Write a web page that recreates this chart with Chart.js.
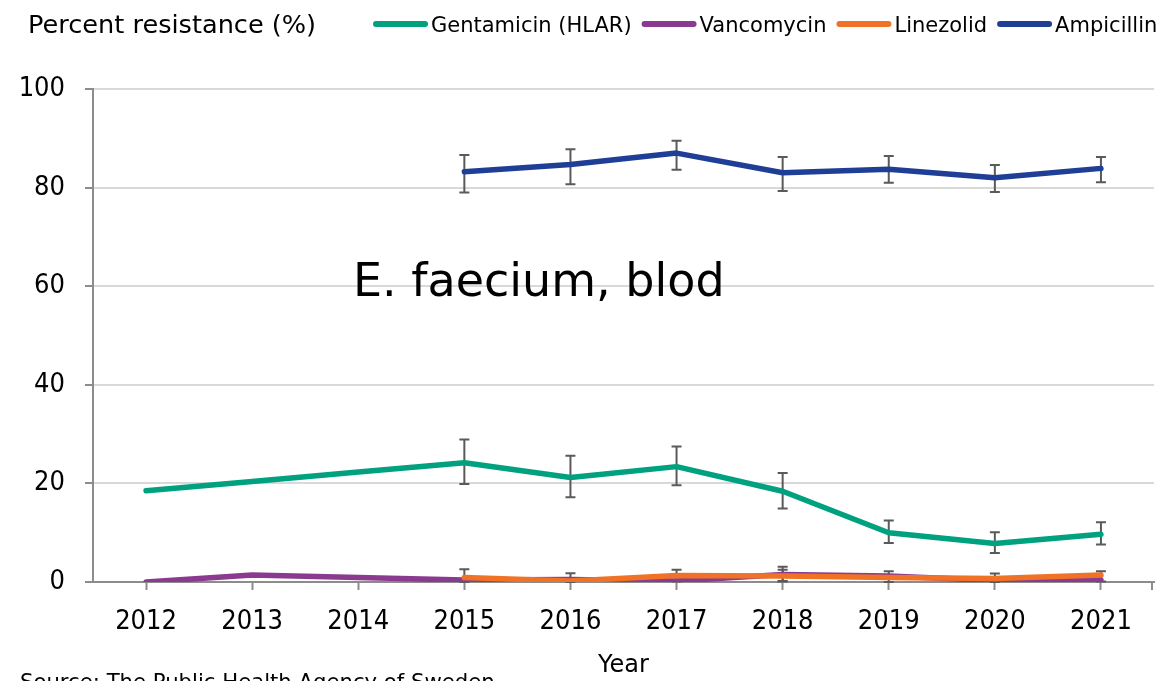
<!DOCTYPE html>
<html><head><meta charset="utf-8">
<script src="https://cdn.jsdelivr.net/npm/chart.js@4/dist/chart.umd.min.js"></script>
<style>html,body{margin:0;padding:0;background:#fff;overflow:hidden}#wrap{width:1171px;height:681px;position:relative}</style>
</head><body><div id="wrap"><canvas id="c" width="1171" height="681"></canvas></div>
<script>
const years = ['2012','2013','2014','2015','2016','2017','2018','2019','2020','2021'];
const yTicks = [0, 20, 40, 60, 80, 100];
const gentamicin    = [18.5, 20.4, 22.3, 24.2, 21.2, 23.4, 18.4, 10.0, 7.8, 9.7];
const gentamicinLow = [null, null, null, 19.9, 17.2, 19.6, 14.9, 7.9, 5.9, 7.6];
const gentamicinHigh= [null, null, null, 28.9, 25.6, 27.5, 22.1, 12.5, 10.1, 12.1];
const vancomycin    = [0.0, 1.4, 0.9, 0.4, 0.5, 0.2, 1.5, 1.2, 0.3, 0.4];
const vancomycinLow = [null, null, null, null, null, null, 0.2, null, null, null];
const vancomycinHigh= [null, null, null, null, null, null, 3.1, null, null, null];
const linezolid     = [null, null, null, 0.9, 0.2, 1.3, 1.2, 0.9, 0.7, 1.4];
const linezolidLow  = [null, null, null, 0.0, 0.0, 0.1, 0.1, 0.0, 0.0, 0.1];
const linezolidHigh = [null, null, null, 2.6, 1.8, 2.5, 2.5, 2.2, 1.7, 2.2];
const ampicillin    = [null, null, null, 83.2, 84.7, 87.0, 83.0, 83.7, 82.0, 83.9];
const ampicillinLow = [null, null, null, 79.0, 80.7, 83.6, 79.3, 81.0, 79.1, 81.1];
const ampicillinHigh= [null, null, null, 86.6, 87.8, 89.5, 86.2, 86.4, 84.6, 86.2];
const seriesNames = ['Gentamicin (HLAR)', 'Vancomycin', 'Linezolid', 'Ampicillin'];
const seriesColors = ['#00A17F', '#8A3B90', '#F07226', '#1F3E95'];

const FONT_C = '"DejaVu Sans Condensed", "DejaVu Sans", sans-serif';
const FONT = '"DejaVu Sans", sans-serif';
const AXIS_GRAY = '#8c8c8c';

function ds(label, data, color, order, lo, hi) {
  return { label, data, borderColor: color, backgroundColor: color, borderWidth: 5.5,
    pointRadius: 0, pointHoverRadius: 0, tension: 0, spanGaps: true, order,
    borderCapStyle: 'round', borderJoinStyle: 'round', fill: false, errLow: lo, errHigh: hi };
}

const errorBars = {
  id: 'errorBars',
  beforeDatasetsDraw(chart) {
    const ctx = chart.ctx, xs = chart.scales.x, ys = chart.scales.y;
    ctx.save();
    ctx.strokeStyle = '#5a5a5a'; ctx.lineWidth = 2;
    chart.data.datasets.forEach(d => {
      if (!d.errHigh) return;
      d.errHigh.forEach((h, j) => {
        if (h == null) return;
        const x = xs.getPixelForValue(j);
        const yh = ys.getPixelForValue(h), yl = ys.getPixelForValue(d.errLow[j]);
        ctx.beginPath();
        ctx.moveTo(x, yh); ctx.lineTo(x, yl);
        ctx.moveTo(x - 5, yh); ctx.lineTo(x + 5, yh);
        ctx.moveTo(x - 5, yl); ctx.lineTo(x + 5, yl);
        ctx.stroke();
      });
    });
    ctx.restore();
  }
};

const texts = {
  id: 'texts',
  afterDraw(chart) {
    const ctx = chart.ctx, ca = chart.chartArea;
    ctx.save();
    ctx.fillStyle = '#000';
    ctx.textBaseline = 'alphabetic';
    ctx.textAlign = 'left';
    ctx.font = '25.6px ' + FONT;
    ctx.fillText('Percent resistance (%)', 28, 33);
    // legend
    ctx.font = '21px ' + FONT;
    let x = 373;
    seriesNames.forEach((n, i) => {
      ctx.strokeStyle = seriesColors[i]; ctx.lineWidth = 6; ctx.lineCap = 'round';
      ctx.beginPath(); ctx.moveTo(x + 3, 24); ctx.lineTo(x + 52, 24); ctx.stroke();
      ctx.fillText(n, x + 58, 32);
      x = x + 58 + ctx.measureText(n).width + 10;
    });
    // panel label
    ctx.font = '46px ' + FONT;
    ctx.fillText('E. faecium, blod', 353, 296);
    // source
    ctx.font = '21.2px ' + FONT;
    ctx.fillText('Source: The Public Health Agency of Sweden', 20, 689);
    // right end tick of x axis
    ctx.strokeStyle = AXIS_GRAY; ctx.lineWidth = 2; ctx.lineCap = 'butt';
    ctx.beginPath(); ctx.moveTo(ca.right - 2, ca.bottom); ctx.lineTo(ca.right - 2, ca.bottom + 8); ctx.stroke();
    ctx.restore();
  }
};

new Chart(document.getElementById('c'), {
  type: 'line',
  data: {
    labels: years,
    datasets: [
      ds(seriesNames[0], gentamicin, seriesColors[0], 1, gentamicinLow, gentamicinHigh),
      ds(seriesNames[1], vancomycin, seriesColors[1], 3, vancomycinLow, vancomycinHigh),
      ds(seriesNames[2], linezolid, seriesColors[2], 2, linezolidLow, linezolidHigh),
      ds(seriesNames[3], ampicillin, seriesColors[3], 1, ampicillinLow, ampicillinHigh)
    ]
  },
  options: {
    responsive: false, animation: false, devicePixelRatio: 1,
    layout: { padding: { left: 0, top: 89, right: 17, bottom: 0 } },
    plugins: { legend: { display: false }, tooltip: { enabled: false } },
    scales: {
      x: {
        type: 'category', offset: true,
        grid: { offset: false, drawOnChartArea: false, drawTicks: true, tickLength: 8, tickColor: AXIS_GRAY, tickWidth: 2 },
        border: { display: true, color: AXIS_GRAY, width: 2 },
        ticks: { color: '#000', font: { family: FONT_C, size: 27 }, padding: 16, maxRotation: 0, autoSkip: false },
        title: { display: true, text: 'Year', color: '#000', font: { family: FONT, size: 24 }, padding: { top: 0, bottom: 1 } },
        afterFit(s) { s.height = 99; }
      },
      y: {
        min: 0, max: 100,
        afterBuildTicks(s) { s.ticks = yTicks.map(v => ({ value: v })); },
        grid: { color: '#d9d9d9', lineWidth: 2, drawTicks: true, tickLength: 8, tickColor: AXIS_GRAY, tickWidth: 2 },
        border: { display: true, color: AXIS_GRAY, width: 2 },
        ticks: { color: '#000', font: { family: FONT_C, size: 27 }, padding: 20 },
        afterFit(s) { s.width = 93; }
      }
    }
  },
  plugins: [errorBars, texts]
});
</script>
</body></html>
